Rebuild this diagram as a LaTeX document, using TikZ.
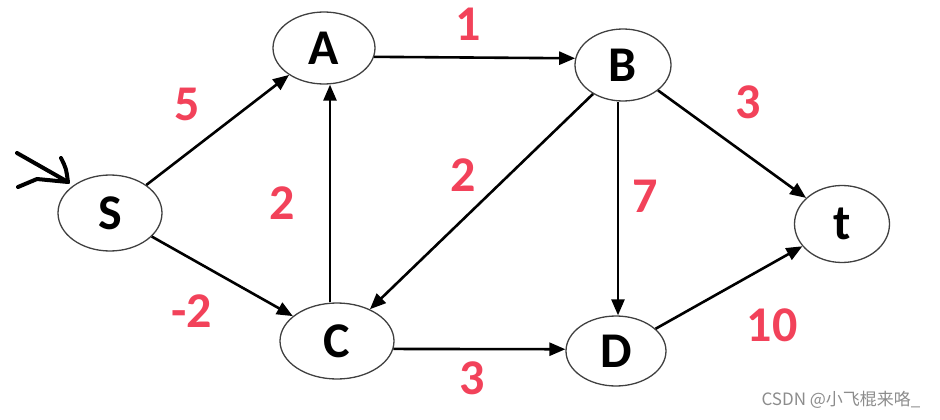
\documentclass[tikz,border=0pt]{standalone}
\usepackage{fontspec}
\setmainfont{Carlito}
\newfontfamily\cjk{Noto Sans CJK SC}
\usetikzlibrary{shapes.geometric,arrows.meta}
\definecolor{wred}{HTML}{F2425A}
\begin{document}
\begin{tikzpicture}[x=1pt,y=-1pt,
  vert/.style 2 args={ellipse, draw=black!75, line width=1.3pt, inner sep=0pt,
    minimum width=#1pt, minimum height=#2pt, font=\fontsize{50}{50}\selectfont\bfseries},
  edge/.style={draw=black, line width=2.6pt, -{Triangle[length=16pt,width=13pt]}},
  wlab/.style={text=wred, font=\fontsize{50}{50}\selectfont\bfseries}]
\useasboundingbox (0,0) rectangle (940,420);
\node[vert={104}{76}] (S) at (110,213) {S};
\node[vert={102}{72}] (A) at (324,48) {A};
\node[vert={96}{72}] (B) at (623,65) {B};
\node[vert={95}{77}] (t) at (842,224) {t};
\node[vert={114}{76}] (C) at (337,341) {C};
\node[vert={100}{70}] (D) at (616,351) {D};
% edges
\draw[edge] (S) -- (A);
\draw[edge] (S) -- (C);
\draw[edge] ([xshift=-7pt]C.north) -- ([xshift=6pt]A.south);
\draw[edge] (A.-10) -- (B.172);
\draw[edge] (B) -- (C);
\draw[edge] ([xshift=-5pt]B.south) -- ([xshift=2pt]D.north);
\draw[edge] (B) -- (t);
\draw[edge] (C.-8) -- (D.178);
\draw[edge] (D) -- (t);
% weights
\node[wlab] (w1) at (187,104) {5};
\node[wlab] (w2) at (192,311) {-2};
\node[wlab] (w3) at (282,203) {2};
\node[wlab] (w4) at (468,24) {1};
\node[wlab] (w5) at (463,175) {2};
\node[wlab] (w6) at (645,196) {7};
\node[wlab] (w7) at (748,102) {3};
\node[wlab] (w8) at (472,378) {3};
\node[wlab] (w9) at (772,325) {10};
% hand-drawn start mark
\coordinate (m0) at (17,153);
\coordinate (m1) at (68,182);
\draw[line width=4pt, line cap=round, line join=round] (m0) -- (m1);
\draw[line width=4pt, line cap=round, line join=round] (18,187) -- (37,179) -- (m1);
\draw[line width=4pt, line cap=round, line join=round] (61,158) .. controls (66,168) .. (m1);
% watermark
\node[text=black!45, font=\cjk\fontsize{17}{17}\selectfont, anchor=east] (wm) at (924,400) {CSDN @小飞棍来咯\_};
\end{tikzpicture}
\end{document}
